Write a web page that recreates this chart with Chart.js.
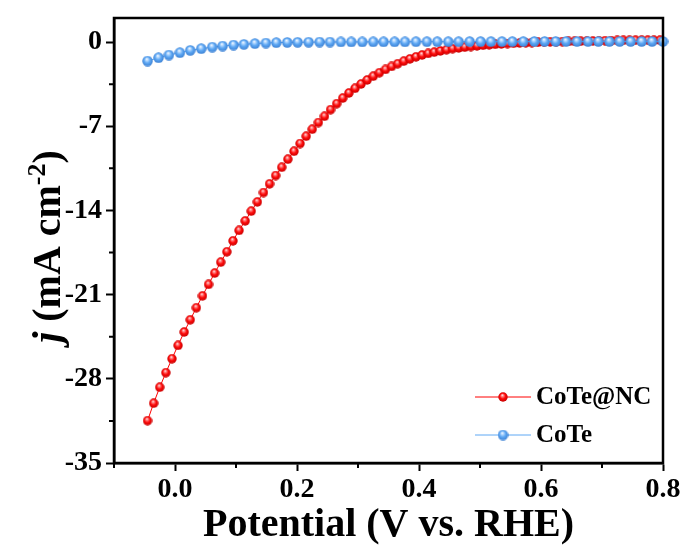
<!DOCTYPE html>
<html>
<head>
<meta charset="utf-8">
<script src="https://cdn.jsdelivr.net/npm/chart.js@4/dist/chart.umd.min.js"></script>
<style>
  html, body { margin: 0; padding: 0; background: #fff; }
  canvas { display: block; }
</style>
</head>
<body>
<canvas id="lsv" width="686" height="552"></canvas>
<script>
/* LSV curves */
const seriesNames = ["CoTe@NC", "CoTe"];

const cotencPotential = [-0.045, -0.035, -0.025, -0.015, -0.005, 0.005, 0.015, 0.025, 0.035, 0.045,
  0.055, 0.065, 0.075, 0.085, 0.095, 0.105, 0.115, 0.125, 0.135, 0.145,
  0.155, 0.165, 0.175, 0.185, 0.195, 0.205, 0.215, 0.225, 0.235, 0.245,
  0.255, 0.265, 0.275, 0.285, 0.295, 0.305, 0.315, 0.325, 0.335, 0.345,
  0.355, 0.365, 0.375, 0.385, 0.395, 0.405, 0.415, 0.425, 0.435, 0.445,
  0.455, 0.465, 0.475, 0.485, 0.495, 0.505, 0.515, 0.525, 0.535, 0.545,
  0.555, 0.565, 0.575, 0.585, 0.595, 0.605, 0.615, 0.625, 0.635, 0.645,
  0.655, 0.665, 0.675, 0.685, 0.695, 0.705, 0.715, 0.725, 0.735, 0.745,
  0.755, 0.765, 0.775, 0.785, 0.795];
const cotencCurrent = [-31.48, -30.03, -28.70, -27.49, -26.33, -25.22, -24.11, -23.09, -22.09, -21.10,
  -20.15, -19.21, -18.30, -17.44, -16.53, -15.66, -14.87, -14.06, -13.29, -12.51,
  -11.79, -11.10, -10.41, -9.74, -9.08, -8.44, -7.83, -7.25, -6.69, -6.17,
  -5.62, -5.12, -4.66, -4.24, -3.85, -3.49, -3.15, -2.84, -2.55, -2.28,
  -2.03, -1.80, -1.59, -1.40, -1.23, -1.08, -0.95, -0.84, -0.74, -0.64,
  -0.55, -0.49, -0.43, -0.37, -0.32, -0.27, -0.23, -0.19, -0.16, -0.13,
  -0.10, -0.08, -0.06, -0.04, -0.02, 0.00, 0.02, 0.03, 0.04, 0.05,
  0.06, 0.07, 0.08, 0.09, 0.10, 0.11, 0.12, 0.13, 0.14, 0.14,
  0.15, 0.15, 0.15, 0.15, 0.15];

const cotePotential = [-0.045, -0.027, -0.010, 0.008, 0.025, 0.043, 0.061, 0.078, 0.096, 0.113,
  0.131, 0.149, 0.166, 0.184, 0.201, 0.219, 0.237, 0.254, 0.272, 0.289,
  0.307, 0.325, 0.342, 0.360, 0.377, 0.395, 0.413, 0.430, 0.448, 0.465,
  0.483, 0.501, 0.518, 0.536, 0.553, 0.571, 0.589, 0.606, 0.624, 0.641,
  0.659, 0.677, 0.694, 0.712, 0.729, 0.747, 0.765, 0.782, 0.800];
const coteCurrent = [-1.58, -1.30, -1.08, -0.88, -0.69, -0.55, -0.42, -0.33, -0.25, -0.19,
  -0.13, -0.08, -0.05, -0.03, -0.02, -0.01, 0.00, 0.00, 0.01, 0.01,
  0.01, 0.02, 0.02, 0.02, 0.02, 0.03, 0.03, 0.03, 0.03, 0.03,
  0.04, 0.04, 0.04, 0.04, 0.04, 0.04, 0.05, 0.05, 0.05, 0.05,
  0.05, 0.05, 0.05, 0.05, 0.05, 0.05, 0.05, 0.05, 0.05];

const xTicks = [0.0, 0.2, 0.4, 0.6, 0.8];
const xMinorTicks = [-0.1, 0.1, 0.3, 0.5, 0.7];
const yTicks = [-35, -28, -21, -14, -7, 0];
const yMinorTicks = [-31.5, -24.5, -17.5, -10.5, -3.5];

const FONT = "'Liberation Serif', 'Times New Roman', serif";

/* small shaded ball used as the point marker */
function makeBall(size, light, mid, dark) {
  const c = document.createElement("canvas");
  c.width = size;
  c.height = size;
  const g = c.getContext("2d");
  const r = size / 2;
  const grad = g.createRadialGradient(r * 0.85, r * 0.6, 0, r, r, r);
  grad.addColorStop(0, "#ffffff");
  grad.addColorStop(0.22, light);
  grad.addColorStop(0.55, mid);
  grad.addColorStop(1, dark);
  g.fillStyle = grad;
  g.beginPath();
  g.arc(r, r, r - 0.3, 0, Math.PI * 2);
  g.fill();
  return c;
}

const redBall = makeBall(10, "#ff8a8a", "#ff0a0a", "#c00000");
const blueBall = makeBall(11, "#bcdcff", "#5ea8f4", "#3b7fd2");

function toPoints(xs, ys) {
  return xs.map((x, i) => ({ x, y: ys[i] }));
}

/* frame, minor ticks, axis titles and legend */
const decorations = {
  id: "decorations",
  afterDraw(chart) {
    const { ctx, chartArea: area, scales } = chart;
    ctx.save();

    ctx.strokeStyle = "#000";
    ctx.lineWidth = 2.5;
    ctx.strokeRect(area.left, area.top, area.right - area.left, area.bottom - area.top);

    ctx.lineWidth = 2;
    ctx.beginPath();
    xMinorTicks.forEach(v => {
      const px = scales.x.getPixelForValue(v);
      ctx.moveTo(px, area.bottom);
      ctx.lineTo(px, area.bottom + 5);
    });
    yMinorTicks.forEach(v => {
      const py = scales.y.getPixelForValue(v);
      ctx.moveTo(area.left, py);
      ctx.lineTo(area.left - 5, py);
    });
    ctx.stroke();

    /* x title */
    ctx.fillStyle = "#000";
    ctx.font = `bold 40px ${FONT}`;
    ctx.textAlign = "center";
    ctx.textBaseline = "alphabetic";
    ctx.fillText("Potential (V vs. RHE)", (area.left + area.right) / 2, 536);

    /* y title, rotated, with italic j and superscript */
    const parts = [
      { t: "j", f: `italic bold 40px ${FONT}`, dy: 0 },
      { t: " (mA cm", f: `bold 40px ${FONT}`, dy: 0 },
      { t: "-2", f: `bold 26px ${FONT}`, dy: -15 },
      { t: ")", f: `bold 40px ${FONT}`, dy: 0 }
    ];
    let total = 0;
    parts.forEach(p => {
      ctx.font = p.f;
      p.w = ctx.measureText(p.t).width;
      total += p.w;
    });
    ctx.translate(60, (area.top + area.bottom) / 2 + 6);
    ctx.rotate(-Math.PI / 2);
    ctx.textAlign = "left";
    let cx = -total / 2;
    parts.forEach(p => {
      ctx.font = p.f;
      ctx.fillText(p.t, cx, p.dy);
      cx += p.w;
    });
    ctx.setTransform(1, 0, 0, 1, 0, 0);

    /* legend inside the plot */
    const rows = [
      { name: seriesNames[0], color: "#ff0000", ball: redBall, y: 397 },
      { name: seriesNames[1], color: "#5ea8f4", ball: blueBall, y: 435 }
    ];
    rows.forEach(r => {
      ctx.strokeStyle = r.color;
      ctx.lineWidth = 1;
      ctx.beginPath();
      ctx.moveTo(475, r.y);
      ctx.lineTo(531, r.y);
      ctx.stroke();
      ctx.drawImage(r.ball, 503 - r.ball.width / 2, r.y - r.ball.height / 2);
      ctx.fillStyle = "#000";
      ctx.font = `bold 25px ${FONT}`;
      ctx.textAlign = "left";
      ctx.textBaseline = "middle";
      ctx.fillText(r.name, 536, r.y + 1);
    });

    ctx.restore();
  }
};

const ctx = document.getElementById("lsv").getContext("2d");

new Chart(ctx, {
  type: "scatter",
  data: {
    datasets: [
      {
        label: seriesNames[0],
        data: toPoints(cotencPotential, cotencCurrent),
        showLine: true,
        borderColor: "#ff0000",
        borderWidth: 1,
        pointStyle: redBall,
        pointRadius: 5,
        order: 1
      },
      {
        label: seriesNames[1],
        data: toPoints(cotePotential, coteCurrent),
        showLine: true,
        borderColor: "#5ea8f4",
        borderWidth: 1,
        pointStyle: blueBall,
        pointRadius: 5,
        order: 0
      }
    ]
  },
  options: {
    responsive: false,
    animation: false,
    clip: false,
    layout: { padding: { left: 0, top: 17, right: 23, bottom: 0 } },
    plugins: {
      legend: { display: false },
      tooltip: { enabled: false }
    },
    scales: {
      x: {
        type: "linear",
        min: -0.1,
        max: 0.8,
        afterBuildTicks: scale => {
          scale.ticks = xTicks.map(v => ({ value: v }));
        },
        afterFit: scale => {
          scale.height = 89;
        },
        ticks: {
          color: "#000",
          font: { family: FONT, size: 28, weight: "bold", lineHeight: 1 },
          padding: 5,
          maxRotation: 0,
          callback: v => v.toFixed(1)
        },
        grid: {
          drawOnChartArea: false,
          drawTicks: true,
          tickLength: 8,
          tickWidth: 2,
          tickColor: "#000"
        },
        border: { display: true, color: "#000", width: 2.5 }
      },
      y: {
        type: "linear",
        min: -35,
        max: 2,
        afterBuildTicks: scale => {
          scale.ticks = yTicks.map(v => ({ value: v }));
        },
        afterFit: scale => {
          scale.width = 114;
        },
        ticks: {
          color: "#000",
          font: { family: FONT, size: 28, weight: "bold", lineHeight: 1 },
          padding: 4,
          callback: v => String(v)
        },
        grid: {
          drawOnChartArea: false,
          drawTicks: true,
          tickLength: 8,
          tickWidth: 2,
          tickColor: "#000"
        },
        border: { display: true, color: "#000", width: 2.5 }
      }
    }
  },
  plugins: [decorations]
});
</script>
</body>
</html>
